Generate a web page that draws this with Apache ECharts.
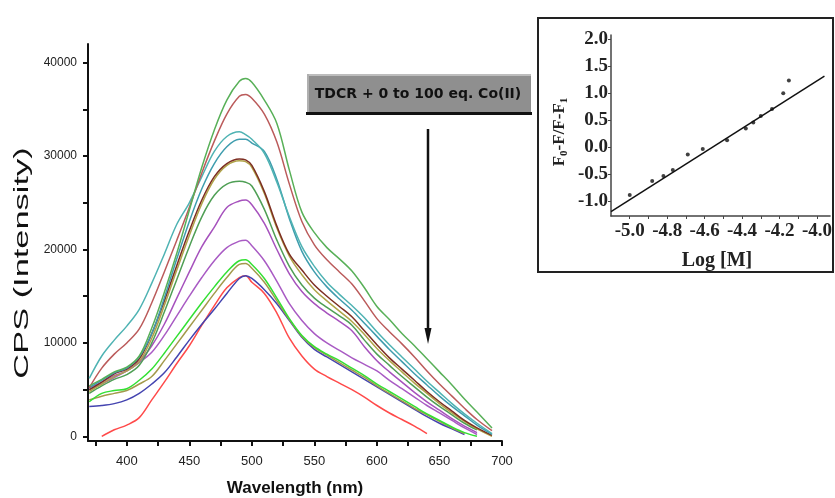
<!DOCTYPE html>
<html><head><meta charset="utf-8">
<script src="https://cdn.jsdelivr.net/npm/echarts@6/dist/echarts.min.js"></script>
<style>html,body{margin:0;padding:0;background:#fff}#c{width:835px;height:498px}</style>
</head><body><div id="c"></div>
<script>
// ---- main spectra data (wavelength grid, nm) ----
const wavelengths = [370,380,390,400,410,420,430,440,450,460,470,480,490,495,500,510,520,530,540,550,560,570,580,590,600,610,620,630,640,650,660,670,680,692];
const green1      = [5400,6100,6900,7400,8600,11600,15400,19600,24200,28800,32800,36000,38000,38300,37900,36000,33500,28500,24000,21800,20200,19000,17700,15900,13900,12500,11000,9700,8300,6900,5500,4000,2600,900];
const brown       = [5200,7300,8800,10000,11500,14300,17600,21000,24500,28200,31600,34500,36400,36600,36200,34500,31500,27000,23000,20500,18900,17600,16300,14500,12600,11200,9900,8500,7000,5600,4300,3000,1800,600];
const teal1       = [6200,8600,10300,11800,13600,16400,19500,22700,25000,27800,30500,32100,32600,32300,31800,30300,27200,23500,20300,18200,16500,15200,14000,12700,11200,9800,8500,7200,5900,4700,3500,2400,1400,300];
const teal2       = [5200,6000,6800,7300,8500,11000,14800,19000,23000,26500,29200,31000,31800,31800,31400,30500,27500,23300,19800,17600,16000,14700,13500,12100,10700,9300,8000,6700,5500,4300,3200,2200,1200,200];
const darkBrown   = [5000,5800,6700,7200,8300,11000,14500,18300,22000,25300,27800,29200,29700,29600,29000,26200,22500,19500,17800,16200,15000,13900,12800,11300,9800,8400,7200,6000,4800,3700,2700,1700,900,100];
const olive       = [4800,5600,6400,7000,8000,10500,14000,17800,21500,24900,27500,29000,29500,29400,28800,26000,22300,19300,17300,15700,14500,13400,12300,10900,9400,8100,6900,5700,4600,3500,2500,1600,800,0];
const green2      = [4600,5400,6100,6600,7600,10000,13300,16800,20300,23500,25800,27000,27300,27200,26800,24300,21000,18200,16200,14800,13800,12900,11900,10300,8800,7600,6400,5300,4200,3200,2300,1400,700,null];
const purple      = [5200,5800,6500,7000,8000,9700,12000,14800,17600,20300,22400,24500,25200,25300,24800,22800,20000,17400,15500,14200,13200,12300,11300,9600,8100,6900,5800,4700,3700,2800,1900,1100,400,null];
const purple2     = [5000,5600,6300,7000,7900,9000,10800,12900,15000,17000,18800,20200,20900,21000,20400,18800,16600,14200,12400,11000,10000,9200,8400,7700,7000,6000,5100,4200,3300,2500,1700,900,200,null];
const limeGreen   = [3700,4600,4900,5100,6000,7200,8900,10700,12500,14300,16000,17600,18800,18900,18400,16900,14800,12600,10800,9600,8800,8100,7300,6500,5600,4800,4000,3200,2400,1700,1000,400,0,null];
const olive2      = [3900,4300,4600,4900,5600,6400,8100,9900,11700,13500,15300,17000,18400,18500,18000,16500,14500,12500,10700,9500,8700,7900,7100,6300,5400,4600,3800,3000,2300,1600,900,300,null,null];
const blue        = [3200,3300,3500,3900,4600,5600,6800,8500,10300,12000,13600,15300,16900,17200,16900,15700,14200,12400,10600,9300,8500,7700,6900,6100,5300,4500,3700,2900,2100,1400,800,200,null,null];
const red         = [null,0,700,1200,2000,3900,5800,7800,9700,11900,14000,15900,17000,17200,16500,15300,13200,10500,8600,7200,6400,5700,5000,4200,3300,2500,1800,1100,300,null,null,null,null,null];

const xTickValues  = [375,400,425,450,475,500,525,550,575,600,625,650,675,700];
const xLabelValues = [400,450,500,550,600,650,700];
const yTickValues  = [0,5000,10000,15000,20000,25000,30000,35000,40000];
const yLabelValues = [0,10000,20000,30000,40000];

// ---- inset (log plot) data ----
const logM  = [-5.00,-4.88,-4.82,-4.77,-4.69,-4.61,-4.48,-4.38,-4.34,-4.30,-4.24,-4.18,-4.15];
const ratio = [-0.89,-0.63,-0.54,-0.43,-0.14,-0.04,0.12,0.34,0.45,0.57,0.70,0.99,1.23];
const fitX  = [-5.10,-3.96];
const fitY  = [-1.20,1.31];
const insetXTicks  = [-5.0,-4.9,-4.8,-4.7,-4.6,-4.5,-4.4,-4.3,-4.2,-4.1,-4.0];
const insetXLabels = [-5.0,-4.8,-4.6,-4.4,-4.2,-4.0];
const insetYLabels = [-1.0,-0.5,0.0,0.5,1.0,1.5,2.0];

const curves = [
  {d: red,       c: '#ff4a4a'},
  {d: blue,      c: '#4444b0'},
  {d: olive2,    c: '#a39a4c'},
  {d: limeGreen, c: '#33e033'},
  {d: purple2,   c: '#a95bc4'},
  {d: purple,    c: '#a652bd'},
  {d: green2,    c: '#4f9f55'},
  {d: olive,     c: '#b0a448'},
  {d: darkBrown, c: '#7d2e22'},
  {d: teal2,     c: '#3f9dae'},
  {d: teal1,     c: '#4fb3b3'},
  {d: brown,     c: '#bb5b5b'},
  {d: green1,    c: '#58b058'}
];

const series = curves.map(cv => ({
  type: 'line', xAxisIndex: 0, yAxisIndex: 0, smooth: 0.35, showSymbol: false,
  lineStyle: {color: cv.c, width: 1.5}, itemStyle: {color: cv.c},
  data: wavelengths.map((w, i) => [w, cv.d[i]]).filter(p => p[1] !== null)
}));
series.push({
  type: 'line', xAxisIndex: 1, yAxisIndex: 1, showSymbol: false,
  lineStyle: {color: '#111', width: 1.5},
  data: fitX.map((x, i) => [x, fitY[i]])
});
series.push({
  type: 'scatter', xAxisIndex: 1, yAxisIndex: 1, symbol: 'circle', symbolSize: 4,
  itemStyle: {color: '#111'},
  data: logM.map((x, i) => [x, ratio[i]])
});

const serifLab = {fontFamily: 'Liberation Serif', fontWeight: 'bold', fontSize: 19, color: '#222'};

const chart = echarts.init(document.getElementById('c'), null, {renderer: 'canvas'});
chart.setOption({
  animation: false,
  backgroundColor: '#fff',
  grid: [
    {left: 88, top: 44, width: 414, height: 397},
    {left: 611, top: 35, width: 222, height: 181}
  ],
  xAxis: [
    {type: 'value', gridIndex: 0, min: 369, max: 700,
     axisLine: {show: true, onZero: false, lineStyle: {color: '#111', width: 2}},
     axisTick: {show: true, customValues: xTickValues, length: 5, lineStyle: {color: '#111', width: 2}},
     axisLabel: {customValues: xLabelValues, fontSize: 13, color: '#222', margin: 14, fontFamily: 'Liberation Sans',
                 formatter: v => String(v)},
     splitLine: {show: false}},
    {type: 'value', gridIndex: 1, min: -5.1, max: -3.93,
     axisLine: {show: true, onZero: false, lineStyle: {color: '#444', width: 1.5}},
     axisTick: {show: true, customValues: insetXTicks, length: 3, lineStyle: {color: '#444', width: 1}},
     axisLabel: Object.assign({customValues: insetXLabels, margin: 6, formatter: v => v.toFixed(1)}, serifLab),
     splitLine: {show: false}}
  ],
  yAxis: [
    {type: 'value', gridIndex: 0, min: -500, max: 42000,
     axisLine: {show: true, onZero: false, lineStyle: {color: '#111', width: 2}},
     axisTick: {show: true, customValues: yTickValues, length: 5, lineStyle: {color: '#111', width: 2}},
     axisLabel: {customValues: yLabelValues, fontSize: 12, color: '#222', margin: 11, fontFamily: 'Liberation Sans',
                 formatter: v => String(v)},
     splitLine: {show: false}},
    {type: 'value', gridIndex: 1, min: -1.28, max: 2.07,
     axisLine: {show: true, onZero: false, lineStyle: {color: '#444', width: 1.5}},
     axisTick: {show: true, customValues: insetYLabels, length: 3, lineStyle: {color: '#444', width: 1}},
     axisLabel: Object.assign({customValues: insetYLabels, margin: 3, formatter: v => v.toFixed(1)}, serifLab),
     splitLine: {show: false}}
  ],
  series: series,
  graphic: [
    {type: 'rect', shape: {x: 538, y: 18, width: 295, height: 254},
     style: {fill: 'none', stroke: '#222', lineWidth: 2}, z: 100},
    {type: 'rect', shape: {x: 307, y: 74, width: 224, height: 39}, style: {fill: '#8f8f8f'}, z: 100},
    {type: 'rect', shape: {x: 307, y: 74, width: 224, height: 2}, style: {fill: '#bdbdbd'}, z: 101},
    {type: 'rect', shape: {x: 307, y: 74, width: 2, height: 39}, style: {fill: '#b0b0b0'}, z: 101},
    {type: 'rect', shape: {x: 306, y: 112, width: 226, height: 3}, style: {fill: '#111'}, z: 101},
    {type: 'text', x: 418, y: 94, z: 102,
     style: {text: 'TDCR + 0 to 100 eq. Co(II)', fontFamily: 'DejaVu Sans', fontWeight: 'bold', fontSize: 14,
             fill: '#111', textAlign: 'center', textVerticalAlign: 'middle', align: 'center', verticalAlign: 'middle'}},
    {type: 'line', shape: {x1: 428, y1: 129, x2: 428, y2: 334}, style: {stroke: '#111', lineWidth: 2.5}, z: 100},
    {type: 'polygon', shape: {points: [[424.5, 328], [431.5, 328], [428, 344]]}, style: {fill: '#111'}, z: 100},
    {type: 'text', x: 22, y: 263, rotation: Math.PI / 2, scaleX: 1.72, z: 100,
     style: {text: 'CPS (Intensity)', fontFamily: 'Liberation Sans', fontSize: 20, fill: '#111',
             textAlign: 'center', textVerticalAlign: 'middle', align: 'center', verticalAlign: 'middle'}},
    {type: 'text', x: 295, y: 488, z: 100,
     style: {text: 'Wavelength (nm)', fontFamily: 'Liberation Sans', fontWeight: 'bold', fontSize: 17, fill: '#111',
             textAlign: 'center', textVerticalAlign: 'middle', align: 'center', verticalAlign: 'middle'}},
    {type: 'text', x: 717, y: 261, z: 100,
     style: {text: 'Log [M]', fontFamily: 'Liberation Serif', fontWeight: 'bold', fontSize: 20, fill: '#222',
             textAlign: 'center', textVerticalAlign: 'middle', align: 'center', verticalAlign: 'middle'}},
    {type: 'text', x: 560, y: 132, rotation: Math.PI / 2, z: 100,
     style: {text: '{a|F}{s|0}{a|-F/F-F}{s|1}', fill: '#222',
             textAlign: 'center', textVerticalAlign: 'middle', align: 'center', verticalAlign: 'middle',
             rich: {
               a: {fontFamily: 'Liberation Serif', fontWeight: 'bold', fontSize: 17, lineHeight: 20, fill: '#222', color: '#222'},
               s: {fontFamily: 'Liberation Serif', fontWeight: 'bold', fontSize: 11, lineHeight: 8, verticalAlign: 'bottom', fill: '#222', color: '#222'}
             }}}
  ]
});
</script></body></html>
